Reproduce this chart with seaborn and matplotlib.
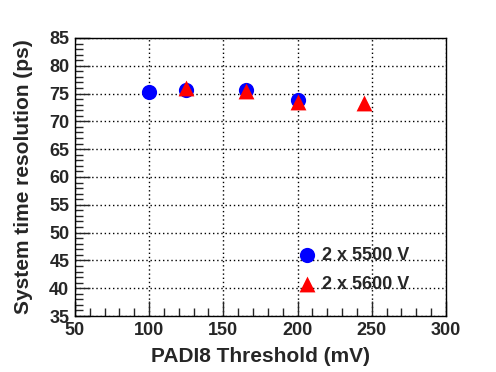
import seaborn as sns
import matplotlib.pyplot as plt
from matplotlib.ticker import MultipleLocator

# threshold scan, two HV settings
thr_5500 = [100, 125, 165, 200]
res_5500 = [75.2, 75.7, 75.7, 73.8]
thr_5600 = [125, 165, 200, 245]
res_5600 = [76.0, 75.5, 73.5, 73.3]
labels = ["2 x 5500 V", "2 x 5600 V"]

sns.set_style("ticks")
plt.rcParams['font.family'] = ['Liberation Sans', 'DejaVu Sans']
plt.rcParams['font.weight'] = 'bold'

fig = plt.figure(figsize=(4.96, 3.72), dpi=100)
ax = fig.add_axes([0.151, 0.1505, 0.748, 0.7475])

sns.scatterplot(x=thr_5500, y=res_5500, color="#0000ff", marker="o", s=120,
                linewidth=0, ax=ax, zorder=3, label=labels[0])
sns.scatterplot(x=thr_5600, y=res_5600, color="#ff0000", marker="^", s=130,
                linewidth=0, ax=ax, zorder=4, label=labels[1])

ax.set_xlim(50, 300)
ax.set_ylim(35, 85)
ax.xaxis.set_major_locator(MultipleLocator(50))
ax.xaxis.set_minor_locator(MultipleLocator(10))
ax.yaxis.set_major_locator(MultipleLocator(5))
ax.yaxis.set_minor_locator(MultipleLocator(1))
ax.tick_params(which='major', direction='in', length=11, width=1,
               labelsize=13, top=False, right=False, pad=4)
ax.tick_params(which='minor', direction='in', length=6, width=1,
               top=False, right=False)
for lab in ax.get_xticklabels() + ax.get_yticklabels():
    lab.set_fontweight('bold')
ax.grid(True, which='major', color='black', linestyle=(0, (1, 2)), linewidth=1)
for sp in ax.spines.values():
    sp.set_linewidth(1)
    sp.set_color('black')

ax.set_xlabel("PADI8 Threshold (mV)", fontsize=15, fontweight='bold', labelpad=6)
ax.set_ylabel("System time resolution (ps)", fontsize=15, fontweight='bold', labelpad=12)

leg = ax.legend(loc='center left', bbox_to_anchor=(0.601, 0.165), frameon=False,
                fontsize=13, handlelength=1.0, handletextpad=0.33,
                labelspacing=0.67, markerscale=1.0, borderaxespad=0,
                borderpad=0)
for t in leg.get_texts():
    t.set_fontweight('bold')

plt.savefig("out.png", dpi=100)
